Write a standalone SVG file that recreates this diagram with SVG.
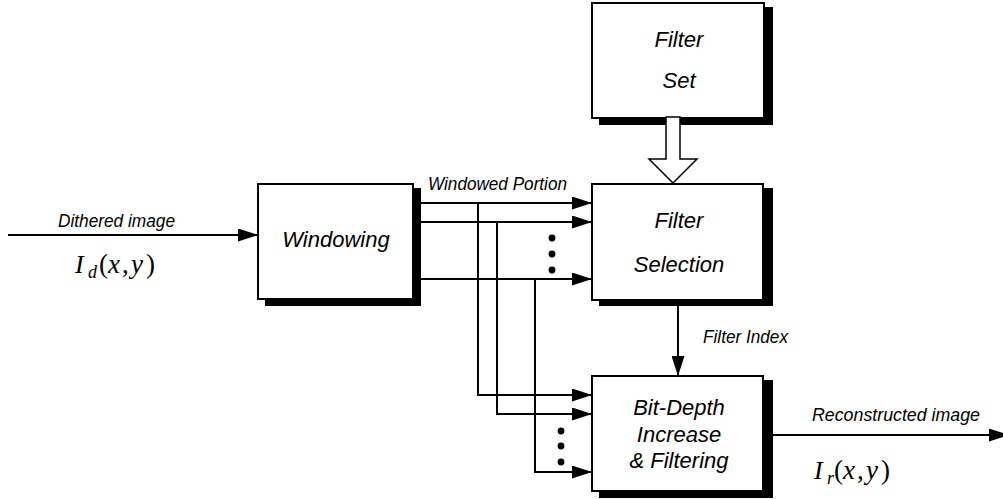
<svg xmlns="http://www.w3.org/2000/svg" width="1003" height="499" viewBox="0 0 1003 499">
  <style>
    .box { fill: #fff; stroke: #000; stroke-width: 2; }
    .shadow { fill: #000; }
    .wire { fill: none; stroke: #000; stroke-width: 2; }
    .arr { marker-end: url(#head); }
    .title { font-family: "Liberation Sans", Arial, sans-serif; font-style: italic; font-size: 22px; fill: #000; text-anchor: middle; }
    .label { font-family: "Liberation Sans", Arial, sans-serif; font-style: italic; font-size: 19px; fill: #000; }
    .math { font-family: "Liberation Serif", "Times New Roman", serif; font-size: 27px; fill: #000; }
    .it { font-style: italic; }
    .cap { font-size: 26px; font-style: italic; }
    .sub { font-size: 18px; font-style: italic; }
  </style>
  <defs>
    <marker id="head" markerUnits="userSpaceOnUse" markerWidth="20" markerHeight="13" refX="20" refY="6.5" orient="auto">
      <path d="M0,0 L20,6.5 L0,13 Z" fill="#000"/>
    </marker>
  </defs>

  <rect width="1003" height="499" fill="#fff"/>

  <!-- Windowing -->
  <g id="windowing">
    <rect class="shadow" x="265" y="188" width="156" height="118"/>
    <rect class="box" x="258" y="184" width="155" height="115"/>
    <text class="title" x="336" y="247">Windowing</text>
  </g>

  <!-- Filter Set -->
  <g id="filter-set">
    <rect class="shadow" x="599" y="7" width="174" height="118"/>
    <rect class="box" x="592" y="3" width="172" height="115"/>
    <text class="title" x="679" y="47">Filter</text>
    <text class="title" x="679" y="88">Set</text>
  </g>

  <!-- Filter Selection -->
  <g id="filter-selection">
    <rect class="shadow" x="599" y="188" width="174" height="118"/>
    <rect class="box" x="592" y="184" width="171" height="116"/>
    <text class="title" x="679" y="228">Filter</text>
    <text class="title" x="679" y="272">Selection</text>
  </g>

  <!-- Bit-Depth Increase & Filtering -->
  <g id="bit-depth">
    <rect class="shadow" x="599" y="380" width="174" height="118"/>
    <rect class="box" x="592" y="376" width="171" height="115"/>
    <text class="title" x="679" y="415">Bit-Depth</text>
    <text class="title" x="679" y="442">Increase</text>
    <text class="title" x="679" y="468">&amp; Filtering</text>
  </g>

  <!-- Connectors -->
  <g id="connectors">
    <!-- input image -->
    <line class="wire arr" x1="8" y1="235" x2="258" y2="235"/>
    <text class="label" x="58" y="227" textLength="117" lengthAdjust="spacingAndGlyphs">Dithered image</text>
    <text class="math" y="273"><tspan class="cap" x="75">I</tspan><tspan class="sub" x="88" y="278">d</tspan><tspan x="99" y="273">(</tspan><tspan class="it" x="108">x</tspan><tspan x="122">,</tspan><tspan class="it" x="131">y</tspan><tspan x="146">)</tspan></text>

    <!-- windowed portion to filter selection -->
    <line class="wire arr" x1="421" y1="203" x2="592" y2="203"/>
    <line class="wire arr" x1="421" y1="222" x2="592" y2="222"/>
    <line class="wire arr" x1="421" y1="279" x2="592" y2="279"/>
    <text class="label" x="428" y="190" textLength="139" lengthAdjust="spacingAndGlyphs">Windowed Portion</text>
    <circle cx="552" cy="238" r="3.4"/>
    <circle cx="552" cy="254" r="3.4"/>
    <circle cx="552" cy="270" r="3.4"/>

    <!-- windowed portion to bit-depth increase -->
    <polyline class="wire arr" points="478,203 478,395 592,395"/>
    <polyline class="wire arr" points="497,222 497,414 592,414"/>
    <polyline class="wire arr" points="535,279 535,472 592,472"/>
    <circle cx="561" cy="431" r="3.4"/>
    <circle cx="561" cy="446" r="3.4"/>
    <circle cx="561" cy="462" r="3.4"/>

    <!-- filter set to filter selection (hollow arrow) -->
    <polygon points="666,117 680,117 680,159 697,159 673,183 649,159 666,159" fill="#fff" stroke="#000" stroke-width="1.5" stroke-linejoin="miter"/>

    <!-- filter index -->
    <line class="wire arr" x1="678" y1="300" x2="678" y2="376"/>
    <text class="label" x="703" y="343" textLength="85" lengthAdjust="spacingAndGlyphs">Filter Index</text>

    <!-- output image -->
    <line class="wire arr" x1="773" y1="435" x2="1009" y2="435"/>
    <text class="label" x="812" y="421" textLength="168" lengthAdjust="spacingAndGlyphs">Reconstructed image</text>
    <text class="math" y="479"><tspan class="cap" x="814">I</tspan><tspan class="sub" x="827" y="484">r</tspan><tspan x="834" y="479">(</tspan><tspan class="it" x="843">x</tspan><tspan x="857">,</tspan><tspan class="it" x="866">y</tspan><tspan x="881">)</tspan></text>
  </g>
</svg>
